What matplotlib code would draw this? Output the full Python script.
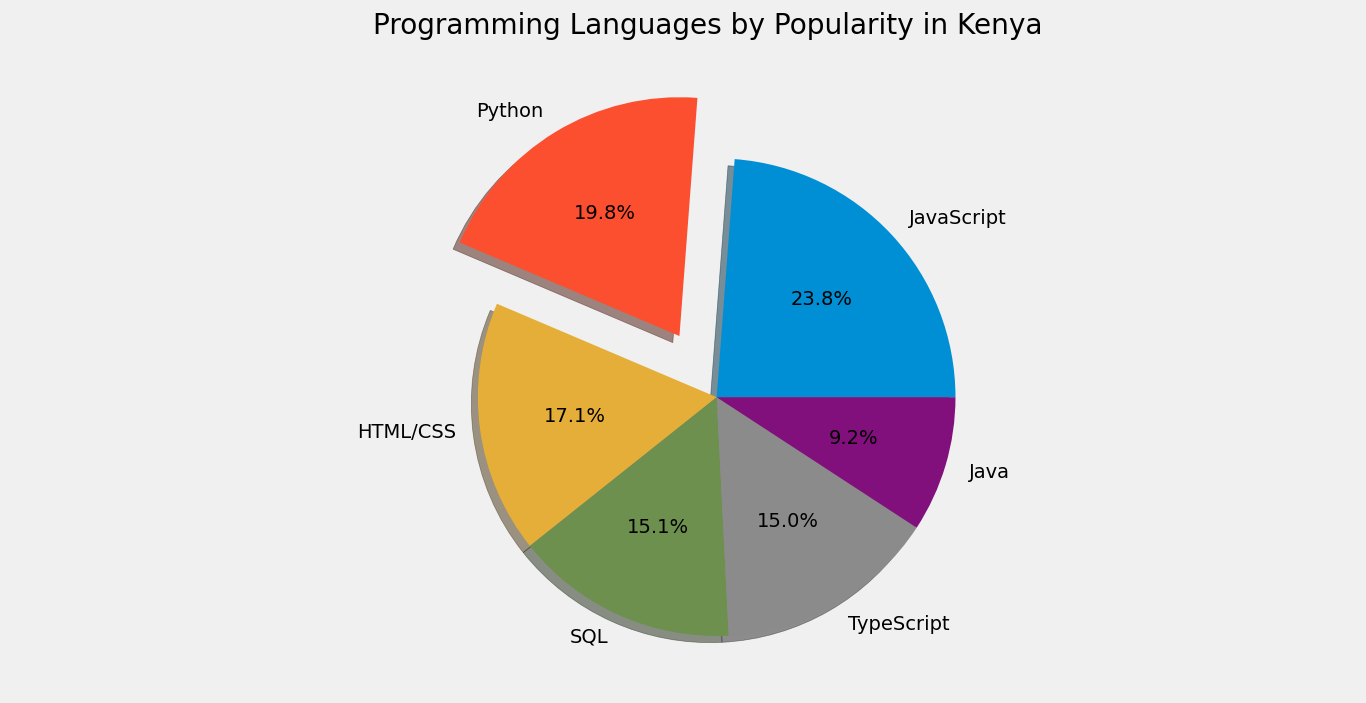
import matplotlib
matplotlib.use("Agg")
import matplotlib.pyplot as plt

plt.style.use("fivethirtyeight")

languages = ["JavaScript", "Python", "HTML/CSS", "SQL", "TypeScript", "Java"]
popularity = [23.8, 19.8, 17.1, 15.1, 15.0, 9.2]
explode = [0, 0.3, 0, 0, 0, 0]

fig, ax = plt.subplots(figsize=(13.66, 7.03), dpi=100)
fig.subplots_adjust(left=0.073, right=0.963, bottom=0.057, top=0.90)

ax.pie(
    popularity,
    labels=languages,
    explode=explode,
    shadow=True,
    autopct="%1.1f%%",
)
ax.axis("equal")
ax.set_title("Programming Languages by Popularity in Kenya", y=1.0, pad=26)

fig.savefig("out.png")
